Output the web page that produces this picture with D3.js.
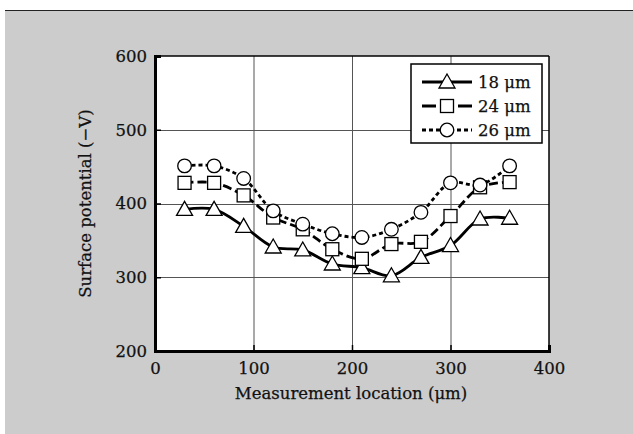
<!DOCTYPE html>
<html><head><meta charset="utf-8">
<script src="https://cdn.jsdelivr.net/npm/d3@7"></script>
<style>html,body{margin:0;padding:0;background:#fff;}svg{display:block;}</style>
</head><body>
<svg id="chart" width="633" height="434"></svg>
<script>
const locations = [30, 60, 90, 120, 150, 180, 210, 240, 270, 300, 330, 360];
const series18 = [392, 392, 369, 341, 337, 318, 313, 302, 327, 343, 379, 380];
const series24 = [428, 428, 411, 381, 365, 338, 325, 345, 348, 383, 422, 429];
const series26 = [451, 451, 434, 390, 372, 359, 354, 365, 388, 428, 425, 451];
const seriesNames = ["18 μm", "24 μm", "26 μm"];
const xTicks = [0, 100, 200, 300, 400];
const yTicks = [200, 300, 400, 500, 600];

const svg = d3.select("#chart");
const font = "'DejaVu Serif', serif";
const fs = 16.5;
function styleText(sel) {
  return sel.attr("font-family", font).attr("font-size", fs).attr("fill", "#111")
    .attr("stroke", "#111").attr("stroke-width", 0.25);
}

// background panel
svg.append("rect").attr("x", 5).attr("y", 10).attr("width", 628).attr("height", 424).attr("fill", "#cccccc");
svg.append("line").attr("x1", 5).attr("x2", 633).attr("y1", 10.5).attr("y2", 10.5).attr("stroke", "#222").attr("stroke-width", 1.2);

const L = 155, R = 549, T = 56, B = 351;
const x = d3.scaleLinear().domain([0, 400]).range([L, R]);
const y = d3.scaleLinear().domain([200, 600]).range([B, T]);

svg.append("rect").attr("x", L).attr("y", T).attr("width", R - L).attr("height", B - T).attr("fill", "#fff");

// grid
const grid = svg.append("g");
grid.selectAll(".gx").data(xTicks.slice(1, -1)).join("line")
  .attr("x1", d => x(d) + 0.5).attr("x2", d => x(d) + 0.5).attr("y1", T).attr("y2", B)
  .attr("stroke", "#555").attr("stroke-width", 1);
grid.selectAll(".gy").data(yTicks.slice(1, -1)).join("line")
  .attr("y1", d => Math.round(y(d)) + 0.5).attr("y2", d => Math.round(y(d)) + 0.5).attr("x1", L).attr("x2", R)
  .attr("stroke", "#555").attr("stroke-width", 1);

// frame: thin top/right
svg.append("line").attr("x1", L).attr("x2", R).attr("y1", T).attr("y2", T).attr("stroke", "#000").attr("stroke-width", 1.5);
svg.append("line").attr("x1", R).attr("x2", R).attr("y1", T).attr("y2", B).attr("stroke", "#000").attr("stroke-width", 1.5);

// axes
const xAxis = d3.axisBottom(x).tickValues(xTicks).tickSize(-6).tickPadding(11).tickFormat(d3.format("d"));
const yAxis = d3.axisLeft(y).tickValues(yTicks).tickSize(-6).tickPadding(8).tickFormat(d3.format("d"));
const gx = svg.append("g").attr("transform", `translate(0,${B})`).call(xAxis);
const gy = svg.append("g").attr("transform", `translate(${L},0)`).call(yAxis);
[gx, gy].forEach(g => {
  g.select(".domain").attr("stroke", "#000").attr("stroke-width", 3);
  g.selectAll(".tick line").attr("stroke", "#000").attr("stroke-width", 1.5);
  styleText(g.selectAll(".tick text"));
});
gx.selectAll(".tick text").attr("dy", "0.71em");
gx.selectAll(".tick").filter(d => d === 0 || d === 400).select("line").remove();
gy.selectAll(".tick").filter(d => d === 200 || d === 600).select("line").remove();
gy.selectAll(".tick text").attr("dy", "0.32em");

// axis titles
styleText(svg.append("text").attr("x", (L + R) / 2 - 1).attr("y", 399).attr("text-anchor", "middle"))
  .text("Measurement location (μm)");
styleText(svg.append("text").attr("transform", `translate(91,${(T + B) / 2}) rotate(-90)`).attr("text-anchor", "middle"))
  .text("Surface potential (−V)");

// series
const seriesData = [series18, series24, series26];
const dashes = [null, "9,4", "4,3"];
const markers = ["triangle", "square", "circle"];
const line = d3.line().x((d, i) => x(locations[i])).y(d => y(d)).curve(d3.curveCatmullRom.alpha(0.5));

function drawMarker(g, type, cx, cy) {
  if (type === "triangle") {
    const s = 8;
    g.append("path").attr("d", `M${cx},${cy - s}L${cx + s},${cy + s * 0.75}L${cx - s},${cy + s * 0.75}Z`)
      .attr("fill", "#fff").attr("stroke", "#000").attr("stroke-width", 1.3);
  } else if (type === "square") {
    g.append("rect").attr("x", cx - 6.5).attr("y", cy - 6.5).attr("width", 13).attr("height", 13)
      .attr("fill", "#fff").attr("stroke", "#000").attr("stroke-width", 1.3);
  } else {
    g.append("circle").attr("cx", cx).attr("cy", cy).attr("r", 6.8)
      .attr("fill", "#fff").attr("stroke", "#000").attr("stroke-width", 1.3);
  }
}

seriesData.forEach((vals, k) => {
  const p = svg.append("path").datum(vals).attr("d", line).attr("fill", "none")
    .attr("stroke", "#000").attr("stroke-width", 2.8);
  if (dashes[k]) p.attr("stroke-dasharray", dashes[k]);
});
seriesData.forEach((vals, k) => {
  const g = svg.append("g");
  vals.forEach((v, i) => drawMarker(g, markers[k], x(locations[i]), y(v)));
});

// legend
const lg = svg.append("g");
lg.append("rect").attr("x", 411).attr("y", 64).attr("width", 131).attr("height", 79)
  .attr("fill", "#fff").attr("stroke", "#000").attr("stroke-width", 1.5);
const rowY = [82, 106, 130];
seriesNames.forEach((name, k) => {
  const ln = lg.append("line").attr("x1", 422).attr("x2", 472).attr("y1", rowY[k]).attr("y2", rowY[k])
    .attr("stroke", "#000").attr("stroke-width", 2.8);
  if (dashes[k]) ln.attr("stroke-dasharray", k === 1 ? "14,22,14" : "4,3");
  drawMarker(lg, markers[k], 447, rowY[k]);
  styleText(lg.append("text").attr("x", 478).attr("y", rowY[k]).attr("dy", "0.35em")).text(name);
});
</script>
</body></html>
